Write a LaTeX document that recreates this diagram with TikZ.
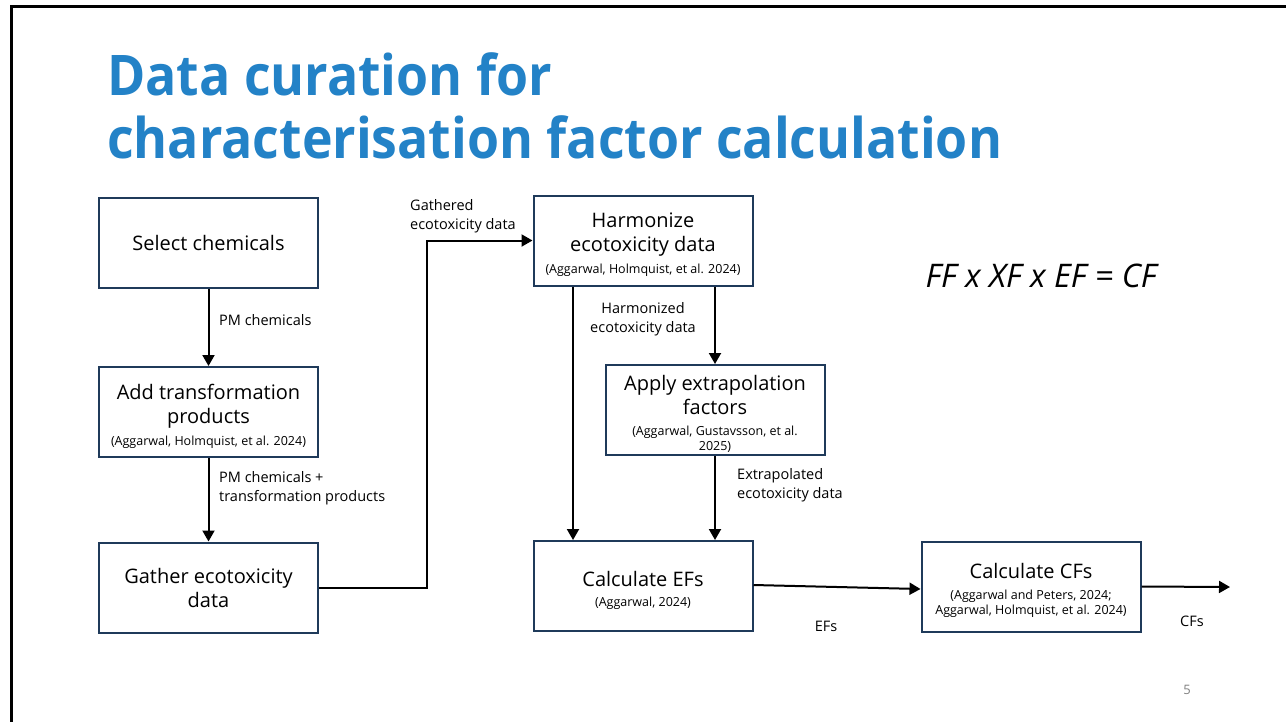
\documentclass[tikz,border=0pt]{standalone}
\usepackage{fontspec}
\setmainfont{Open Sans}
\newfontfamily\titlefont[FakeStretch=0.925]{Open Sans}
\usetikzlibrary{arrows.meta}
\definecolor{titleblue}{HTML}{2382C7}
\definecolor{boxblue}{HTML}{1F3A5A}
\newcommand\mainsz{\fontsize{20}{24}\selectfont}
\newcommand\citesz{\fontsize{12.5}{14.5}\selectfont}
\newcommand\topgap{\rule{0pt}{23pt}}
\begin{document}
\begin{tikzpicture}[x=1pt,y=-1pt,
  procbox/.style={draw=boxblue, line width=2pt, fill=white, minimum width=219pt, minimum height=90pt, align=center, inner sep=2pt, font=\mainsz},
  arr/.style={line width=2pt, -{Triangle[length=11pt,width=12pt]}},
  lbl/.style={font=\fontsize{14.5}{19}\selectfont, inner sep=0pt}
]
\useasboundingbox (0,0) rectangle (1286,721);
\fill[white] (0,0) rectangle (1286,721);
\draw[line width=3pt] (11,740) -- (11,6) -- (1300,6);

\node[anchor=base west, text=titleblue, font=\fontsize{56}{64}\selectfont\titlefont\bfseries, inner sep=0pt] (t1) at (107,95) {Data curation for};
\node[anchor=base west, text=titleblue, font=\fontsize{56}{64}\selectfont\titlefont\bfseries, inner sep=0pt] (t2) at (107,158) {characterisation factor calculation};

\node[procbox] (sel) at (208.5,243) {Select chemicals};
\node[procbox] (add) at (208.5,412) {\topgap Add transformation\\ products\\[-2pt] \citesz (Aggarwal, Holmquist, et al. 2024)};
\node[procbox] (gath) at (208.5,587.5) {Gather ecotoxicity\\ data};
\node[procbox] (harm) at (643,240.5) {\topgap Harmonize\\ ecotoxicity data\\[-2pt] \citesz (Aggarwal, Holmquist, et al. 2024)};
\node[procbox] (extr) at (715,410) {\topgap Apply extrapolation\\ factors\\[-3pt] \citesz (Aggarwal, Gustavsson, et al.\\[-9pt] \citesz 2025)};
\node[procbox] (ef) at (643,586) {\topgap Calculate EFs\\[-4pt] \citesz (Aggarwal, 2024)};
\node[procbox] (cf) at (1031,586.5) {\topgap Calculate CFs\\[-3pt] \citesz (Aggarwal and Peters, 2024;\\[-9pt] \citesz Aggarwal, Holmquist, et al. 2024)};
\coordinate (out) at (1230,587);

\draw[arr] (sel) -- (add);
\draw[arr] (add) -- (gath);
\draw[arr] (gath.east) -- ++(108,0) |- (harm.west);
\draw[arr] (harm.south -| 573,0) -- (ef.north -| 573,0);
\draw[arr] (harm.south -| extr.north) -- (extr.north);
\draw[arr] (extr.south) -- (ef.north -| extr.south);
\draw[arr] ([yshift=1pt]ef.east) -- ([yshift=-2.5pt]cf.west);
\draw[arr] (cf.east) -- (out);

\node[lbl, anchor=west] (l1) at (219,320) {PM chemicals};
\node[lbl, anchor=west, align=left] (l2) at (219,488) {PM chemicals +\\transformation products};
\node[lbl, anchor=west, align=left] (l3) at (410,216.5) {Gathered\\ecotoxicity data};
\node[lbl, align=center] (l4) at (643,319.5) {Harmonized\\ecotoxicity data};
\node[lbl, anchor=west, align=left] (l5) at (737,485.5) {Extrapolated\\ecotoxicity data};
\node[lbl] (l6) at (826,626) {EFs};
\node[lbl] (l7) at (1192,621) {CFs};

\node[font=\fontsize{32.5}{36}\selectfont\itshape, inner sep=0pt] (eq) at (1041,276) {FF x XF x EF = CF};
\node[font=\fontsize{13}{16}\selectfont, text=gray, inner sep=0pt] (pg) at (1187,690) {5};
\end{tikzpicture}
\end{document}
